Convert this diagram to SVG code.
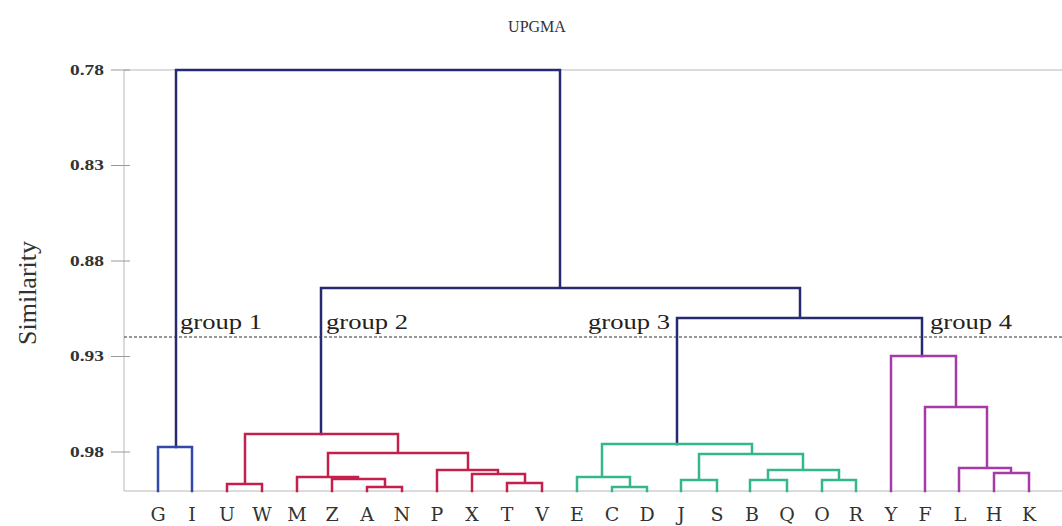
<svg xmlns="http://www.w3.org/2000/svg" width="1062" height="526" viewBox="0 0 1062 526">
<style>
.frame{stroke:#b8b8b8;stroke-width:1;fill:none}
.tick{stroke:#999;stroke-width:1}
.ytl{font-family:"Liberation Serif","DejaVu Serif",serif;font-size:15px;font-weight:bold;fill:#333;text-anchor:end}
.leaf{font-family:"DejaVu Serif","Liberation Serif",serif;font-size:19px;fill:#333;text-anchor:middle}
.grp{font-family:"Liberation Serif","DejaVu Serif",serif;font-size:20px;fill:#222}
.br{fill:none;stroke-width:2.5;stroke-linejoin:miter;stroke-linecap:square}
.navy{stroke:#262a6e}
.blue{stroke:#3048a8}
.red{stroke:#c4204c}
.green{stroke:#34b889}
.purple{stroke:#a53aa8}
</style>
<rect width="1062" height="526" fill="#ffffff"/>
<text x="537" y="32" font-family="Liberation Serif, DejaVu Serif, serif" font-size="16" fill="#333" text-anchor="middle">UPGMA</text>
<g id="axis">
<path class="frame" d="M124 70 V491 H1062 M124 70 H1062"/>
<path class="tick" d="M111 70 H130 M111 165.5 H130 M111 261 H130 M111 356.5 H130 M111 452 H130"/>
<text class="ytl" x="104" y="75" textLength="34" lengthAdjust="spacingAndGlyphs">0.78</text>
<text class="ytl" x="104" y="170" textLength="34" lengthAdjust="spacingAndGlyphs">0.83</text>
<text class="ytl" x="104" y="266" textLength="34" lengthAdjust="spacingAndGlyphs">0.88</text>
<text class="ytl" x="104" y="361" textLength="34" lengthAdjust="spacingAndGlyphs">0.93</text>
<text class="ytl" x="104" y="457" textLength="34" lengthAdjust="spacingAndGlyphs">0.98</text>
<text x="0" y="0" transform="translate(36 293) rotate(-90)" font-family="Liberation Serif, DejaVu Serif, serif" font-size="26" fill="#333" text-anchor="middle">Similarity</text>
</g>
<line x1="124" y1="337" x2="1062" y2="337" stroke="#777" stroke-width="1.5" stroke-dasharray="3 2"/>
<g id="connectors">
<path class="br navy" d="M176 447 V70 H560 V288 M321 434 V288 H800 V318 M677 444 V318 H922 V356"/>
<path class="br blue" d="M158 491 V447 H192 V491"/>
<path class="br red" d="M227 491 V484 H262 V491 M245 484 V434 H398 V453 M328 477 V453 H468 V470 M367 491 V487 H402 V491 M332 491 V479 H385 V487 M297 491 V477 H358 V479 M507 491 V483 H542 V491 M472 491 V474 H525 V483 M437 491 V470 H498 V474"/>
<path class="br green" d="M612 491 V487 H647 V491 M577 491 V477 H630 V487 M602 477 V444 H752 V454 M681 491 V480 H717 V491 M699 480 V454 H803 V470 M750 491 V480 H787 V491 M822 491 V480 H856 V491 M768 480 V470 H839 V480"/>
<path class="br purple" d="M994 491 V473 H1029 V491 M959 491 V468 H1011 V473 M925 491 V407 H987 V468 M891 491 V356 H956 V407"/>
</g>
<g id="group1"><text class="grp" x="180" y="329" textLength="82" lengthAdjust="spacingAndGlyphs">group 1</text></g>
<g id="group2"><text class="grp" x="326" y="329" textLength="82" lengthAdjust="spacingAndGlyphs">group 2</text></g>
<g id="group3"><text class="grp" x="588" y="329" textLength="82" lengthAdjust="spacingAndGlyphs">group 3</text></g>
<g id="group4"><text class="grp" x="930" y="329" textLength="82" lengthAdjust="spacingAndGlyphs">group 4</text></g>
<g id="leaves">
<g id="leaf-G"><text class="leaf" x="158" y="521">G</text></g>
<g id="leaf-I"><text class="leaf" x="192" y="521">I</text></g>
<g id="leaf-U"><text class="leaf" x="227" y="521">U</text></g>
<g id="leaf-W"><text class="leaf" x="262" y="521">W</text></g>
<g id="leaf-M"><text class="leaf" x="297" y="521">M</text></g>
<g id="leaf-Z"><text class="leaf" x="332" y="521">Z</text></g>
<g id="leaf-A"><text class="leaf" x="367" y="521">A</text></g>
<g id="leaf-N"><text class="leaf" x="402" y="521">N</text></g>
<g id="leaf-P"><text class="leaf" x="437" y="521">P</text></g>
<g id="leaf-X"><text class="leaf" x="472" y="521">X</text></g>
<g id="leaf-T"><text class="leaf" x="507" y="521">T</text></g>
<g id="leaf-V"><text class="leaf" x="542" y="521">V</text></g>
<g id="leaf-E"><text class="leaf" x="577" y="521">E</text></g>
<g id="leaf-C"><text class="leaf" x="612" y="521">C</text></g>
<g id="leaf-D"><text class="leaf" x="647" y="521">D</text></g>
<g id="leaf-J"><text class="leaf" x="681" y="521">J</text></g>
<g id="leaf-S"><text class="leaf" x="717" y="521">S</text></g>
<g id="leaf-B"><text class="leaf" x="752" y="521">B</text></g>
<g id="leaf-Q"><text class="leaf" x="787" y="521">Q</text></g>
<g id="leaf-O"><text class="leaf" x="822" y="521">O</text></g>
<g id="leaf-R"><text class="leaf" x="856" y="521">R</text></g>
<g id="leaf-Y"><text class="leaf" x="891" y="521">Y</text></g>
<g id="leaf-F"><text class="leaf" x="925" y="521">F</text></g>
<g id="leaf-L"><text class="leaf" x="960" y="521">L</text></g>
<g id="leaf-H"><text class="leaf" x="994" y="521">H</text></g>
<g id="leaf-K"><text class="leaf" x="1029" y="521">K</text></g>
</g>
</svg>
